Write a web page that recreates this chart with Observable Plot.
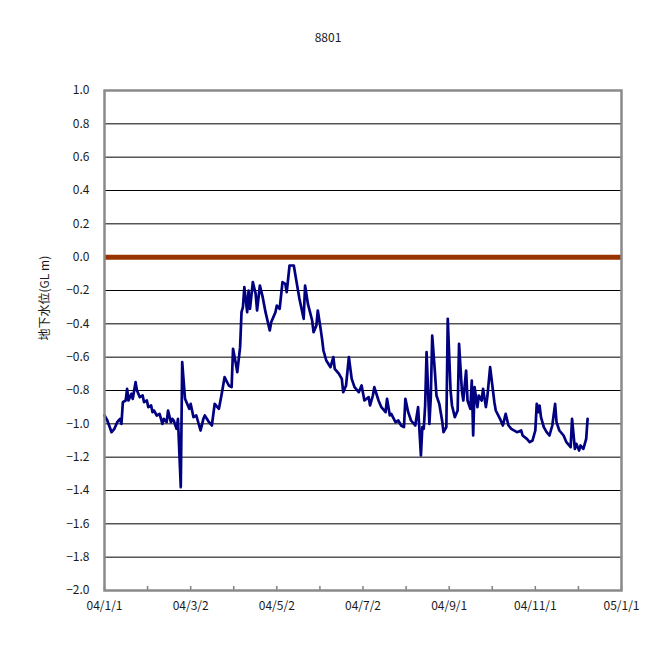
<!DOCTYPE html>
<html>
<head>
<meta charset="utf-8">
<script src="https://cdn.jsdelivr.net/npm/d3@7"></script>
<script src="https://cdn.jsdelivr.net/npm/@observablehq/plot@0.6"></script>
<style>
  html, body { margin: 0; padding: 0; background: #fff; }
  #chart svg { display: block; }
</style>
</head>
<body>
<div id="chart"></div>
<script>
// Well 8801 — groundwater level (GL m), daily record for 2004
const title = "8801";
const yLabel = "地下水位(GL m)";

// days since 2004-01-01
const dayOffsets = [
  0, 2, 5, 7, 9, 11, 12, 13, 15, 16, 17, 19, 20, 22, 23, 25, 27, 28, 30, 31,
  33, 34, 35, 37, 39, 41, 42, 44, 45, 47, 48, 49, 51, 52, 54, 55, 57, 60, 61, 63,
  65, 68, 70, 71, 74, 76, 78, 81, 83, 85, 88, 90, 91, 93, 94, 96, 97, 98, 99, 101,
  102, 103, 105, 107, 108, 110, 112, 114, 117, 118, 121, 122, 124, 126, 128, 129, 131, 134, 136, 138,
  141, 142, 144, 147, 148, 150, 151, 153, 154, 155, 157, 160, 162, 163, 166, 168, 169, 171, 173, 175,
  177, 180, 182, 184, 187, 188, 190, 191, 194, 196, 199, 200, 202, 203, 206, 208, 210, 212, 213, 215,
  217, 220, 222, 224, 225, 226, 227, 228, 230, 231, 232, 234, 235, 237, 239, 240, 242, 243, 245, 246,
  248, 250, 251, 253, 254, 256, 257, 259, 260, 261, 262, 264, 265, 267, 268, 270, 271, 273, 275, 276,
  277, 280, 282, 284, 286, 288, 292, 295, 296, 299, 301, 303, 305, 306, 307, 308, 309, 311, 313, 315,
  317, 319, 320, 322, 325, 327, 330, 331, 333, 334, 336, 337, 339, 341, 342
];

// groundwater level, m relative to ground level
const levels = [
  -0.95, -0.98, -1.05, -1.03, -0.99, -0.97, -1.00, -0.87, -0.86, -0.79, -0.86, -0.82, -0.85, -0.75, -0.80, -0.84, -0.83, -0.87, -0.86, -0.90,
  -0.89, -0.93, -0.92, -0.95, -0.94, -1.00, -0.97, -0.99, -0.92, -0.99, -0.97, -0.98, -1.03, -0.97, -1.38, -0.63, -0.85, -0.91, -0.88, -0.96,
  -0.95, -1.04, -0.97, -0.95, -0.99, -1.01, -0.88, -0.91, -0.82, -0.72, -0.77, -0.78, -0.55, -0.64, -0.69, -0.54, -0.33, -0.30, -0.18, -0.33,
  -0.20, -0.31, -0.15, -0.22, -0.32, -0.17, -0.24, -0.33, -0.44, -0.39, -0.33, -0.29, -0.31, -0.15, -0.16, -0.21, -0.05, -0.05, -0.15, -0.25,
  -0.37, -0.17, -0.28, -0.38, -0.45, -0.41, -0.32, -0.43, -0.49, -0.56, -0.62, -0.66, -0.60, -0.67, -0.70, -0.73, -0.81, -0.77, -0.60, -0.73,
  -0.78, -0.81, -0.77, -0.86, -0.84, -0.89, -0.83, -0.78, -0.86, -0.90, -0.93, -0.85, -0.95, -0.94, -0.99, -0.98, -1.01, -1.02, -0.85, -0.93,
  -0.98, -1.01, -0.90, -1.19, -1.02, -1.03, -0.89, -0.57, -1.00, -0.84, -0.47, -0.70, -0.83, -0.88, -0.98, -1.05, -1.02, -0.37, -0.80, -0.89,
  -0.96, -0.92, -0.52, -0.80, -0.86, -0.68, -0.86, -0.91, -0.74, -1.07, -0.78, -0.90, -0.83, -0.86, -0.79, -0.90, -0.84, -0.66, -0.80, -0.87,
  -0.92, -0.97, -1.01, -0.94, -1.01, -1.03, -1.05, -1.04, -1.07, -1.09, -1.11, -1.10, -1.04, -0.88, -0.93, -0.89, -0.96, -1.02, -1.05, -1.07,
  -1.01, -0.88, -0.99, -1.04, -1.07, -1.11, -1.14, -0.97, -1.15, -1.12, -1.16, -1.13, -1.15, -1.09, -0.97
];

const yTicks = [1.0, 0.8, 0.6, 0.4, 0.2, 0.0, -0.2, -0.4, -0.6, -0.8, -1.0, -1.2, -1.4, -1.6, -1.8, -2.0];
const xTickLabels = ["04/1/1", "04/3/2", "04/5/2", "04/7/2", "04/9/1", "04/11/1", "05/1/1"];
const referenceLevel = [0.0];

const DAY = 864e5;
const start = Date.UTC(2004, 0, 1);
const series = dayOffsets.map((d, i) => ({date: new Date(start + d * DAY), level: levels[i]}));

// "yy/m/d" -> UTC date
const parseLabel = (s) => {
  const [yy, m, d] = s.split("/").map(Number);
  return new Date(Date.UTC(2000 + yy, m - 1, d));
};
const majorTicks = xTickLabels.map(parseLabel);
const labelFor = new Map(majorTicks.map((t, i) => [+t, xTickLabels[i]]));
const allTicks = [];
majorTicks.forEach((t, i) => {
  allTicks.push(t);
  if (i < majorTicks.length - 1) allTicks.push(new Date((+t + +majorTicks[i + 1]) / 2));
});

const font = "'Noto Sans CJK JP', 'Noto Sans', sans-serif";
const ink = "#1a1a1a";
const gridValues = yTicks.filter((v) => v > -2 && v < 1);
const tickLen = 3 * 4 / 500; // four pixels of the 3-unit, 500px y range

const chart = Plot.plot({
  width: 656,
  height: 652,
  marginTop: 90,
  marginBottom: 62,
  marginLeft: 104,
  marginRight: 35,
  style: {fontFamily: font, fontSize: "12px", color: ink, background: "#fff"},
  x: {type: "utc", domain: [new Date(start), parseLabel("05/1/1")]},
  y: {domain: [-2, 1]},
  marks: [
    Plot.ruleY(gridValues, {stroke: "#000", strokeWidth: 1}),
    Plot.ruleY(referenceLevel, {stroke: "#993300", strokeWidth: 5}),
    Plot.ruleX(allTicks, {x: (d) => d, y1: -2, y2: -2 + tickLen, stroke: "#808080", strokeWidth: 1.5}),
    Plot.line(series, {x: "date", y: "level", stroke: "#000080", strokeWidth: 2.7, strokeLinejoin: "round"}),
    Plot.frame({stroke: "#8a8a8a", strokeWidth: 2.5}),
    Plot.axisY(yTicks, {tickSize: 0, tickPadding: 15, tickFormat: d3.format(".1f"), fill: ink, label: null}),
    Plot.axisX(majorTicks, {tickSize: 0, tickPadding: 11, tickFormat: (d) => labelFor.get(+d), fill: ink, label: null}),
    Plot.text([title], {frameAnchor: "top", dx: -35, dy: -57, fontSize: 12, fill: ink}),
    Plot.text([yLabel], {frameAnchor: "left", rotate: -90, dx: -59, fontSize: 12, fill: ink})
  ]
});

document.getElementById("chart").appendChild(chart);
</script>
</body>
</html>
